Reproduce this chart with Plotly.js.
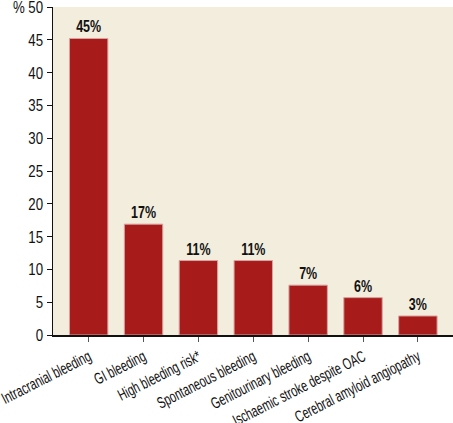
<!DOCTYPE html>
<html><head><meta charset="utf-8">
<script src="https://cdn.plot.ly/plotly-3.0.1.min.js"></script>
<style>body{margin:0;background:#fff}#c{width:453px;height:423px}</style>
</head><body><div id="c"></div>
<script>
const categories = ["Intracranial bleeding","GI bleeding","High bleeding risk*","Spontaneous bleeding","Genitourinary bleeding","Ischaemic stroke despite OAC","Cerebral amyloid angiopathy"];
const values = [45.2, 16.9, 11.35, 11.35, 7.6, 5.7, 2.9];
const valueLabels = ["45%","17%","11%","11%","7%","6%","3%"];
const yTicks = [0,5,10,15,20,25,30,35,40,45,50];
const yTickText = ["0","5","10","15","20","25","30","35","40","45","% 50"];
const F = "'Liberation Sans', Arial, sans-serif";
function condense(sel, s){
  document.querySelectorAll(sel).forEach(t=>{
    const x = parseFloat(t.getAttribute('x')||0), y = parseFloat(t.getAttribute('y')||0);
    const tr = t.getAttribute('transform')||'';
    t.setAttribute('transform', tr+' translate('+x+','+y+') scale('+s+',1) translate('+(-x)+','+(-y)+')');
  });
}
Plotly.newPlot('c', [{
  type:'bar', x:categories, y:values, text:valueLabels, textposition:'outside',
  textfont:{family:F, size:16, color:'#111', weight:'bold'}, cliponaxis:false,
  marker:{color:'#A81B1B', line:{color:'#D9A3A0', width:1}}, width:0.7, hoverinfo:'none'
}], {
  width:453, height:423, margin:{l:53, r:0, t:7, b:88},
  paper_bgcolor:'#fff', plot_bgcolor:'#F2EDDC', showlegend:false, bargap:0.3,
  font:{family:F, size:15, color:'#111'},
  xaxis:{range:[-0.65,6.64], showline:true, linecolor:'#111', linewidth:1.5, ticks:'outside', ticklen:5, tickcolor:'#555',
    tickangle:-27, tickfont:{family:F, size:16}, showgrid:false, zeroline:false, fixedrange:true, automargin:false, ticklabeloverflow:'allow'},
  yaxis:{range:[0,50], tickmode:'array', tickvals:yTicks, ticktext:yTickText, showline:true, linecolor:'#111', linewidth:1.5, ticks:'outside', ticklen:5,
    tickcolor:'#111', tickfont:{family:F, size:17}, showgrid:false, zeroline:false, fixedrange:true, automargin:false, ticklabeloverflow:'allow'}
}, {staticPlot:true}).then(()=>{
  condense('.xtick text', 0.68);
  condense('.ytick text', 0.78);
  condense('.bartext', 0.78);
});
</script></body></html>
